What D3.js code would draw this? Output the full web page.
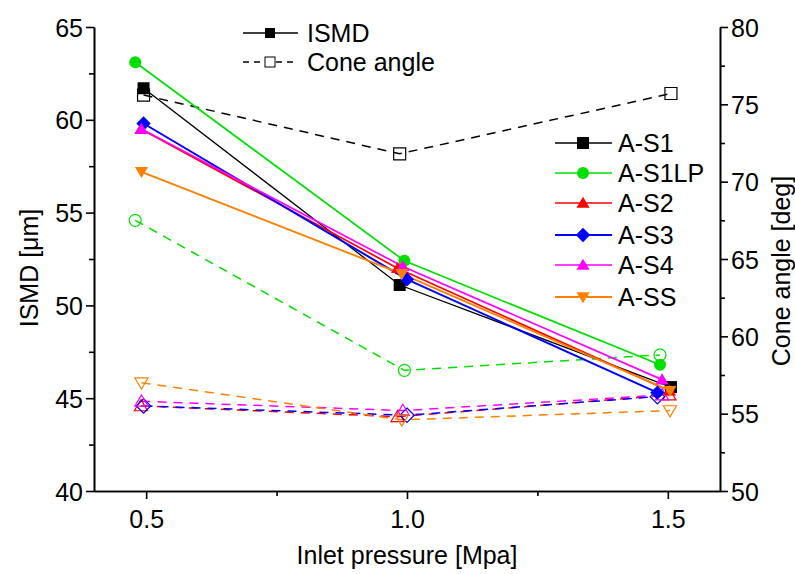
<!DOCTYPE html>
<html><head><meta charset="utf-8">
<script src="https://cdn.jsdelivr.net/npm/d3@7"></script>
<style>body{margin:0;background:#fff}svg{display:block}text{font-family:Arial,"Liberation Sans",sans-serif;fill:#000}</style>
</head><body><svg id="c" width="795" height="574"></svg>
<script>
const seriesNames = ["A-S1","A-S1LP","A-S2","A-S3","A-S4","A-SS"];
const colors = ["#000000","#00e000","#ff0000","#0000ff","#ff00ff","#ff8000"];
const symbols = ["square","circle","triangle","diamond","triangle","triangleDown"];
const pressS1   = [0.495, 0.986, 1.506];
const pressS1LP = [0.479, 0.995, 1.485];
const pressS2   = [0.490, 0.982, 1.503];
const pressS3   = [0.495, 1.000, 1.480];
const pressS4   = [0.491, 0.992, 1.489];
const pressSS   = [0.491, 0.990, 1.504];
const ismdS1   = [61.7, 51.1, 45.6];
const ismdS1LP = [63.1, 52.4, 46.8];
const ismdS2   = [59.5, 52.0, 45.4];
const ismdS3   = [59.8, 51.4, 45.3];
const ismdS4   = [59.5, 52.1, 46.0];
const ismdSS   = [57.2, 51.7, 45.4];
const coneS1   = [75.6, 71.8, 75.7];
const coneS1LP = [67.5, 57.8, 58.8];
const coneS2   = [55.5, 54.8, 56.2];
const coneS3   = [55.5, 54.9, 56.1];
const coneS4   = [55.8, 55.2, 56.2];
const coneSS   = [57.0, 54.6, 55.2];
const xTicks = [0.5, 1.0, 1.5];
const xMinorTicks = [0.75, 1.25];
const yLeftTicks = [40,45,50,55,60,65];
const yLeftMinor = [42.5,47.5,52.5,57.5,62.5];
const yRightTicks = [50,55,60,65,70,75,80];
const yRightMinor = [52.5,57.5,62.5,67.5,72.5,77.5];

const press = [pressS1,pressS1LP,pressS2,pressS3,pressS4,pressSS];
const ismd = [ismdS1,ismdS1LP,ismdS2,ismdS3,ismdS4,ismdSS];
const cone = [coneS1,coneS1LP,coneS2,coneS3,coneS4,coneSS];

const L=94, R=720, T=27, B=491, FS=25;
const svg = d3.select("#c");
const x = d3.scaleLinear().domain([0.4,1.6]).range([L,R]);
const yL = d3.scaleLinear().domain([40,65]).range([B,T]);
const yR = d3.scaleLinear().domain([50,80]).range([B,T]);

function symPath(type, h){
  if(type==="square") return `M${-h},${-h}H${h}V${h}H${-h}Z`;
  if(type==="circle") return d3.symbol().type(d3.symbolCircle).size(Math.PI*h*h)();
  if(type==="triangle") return `M0,${-h*1.05}L${h*1.1},${h*0.8}L${-h*1.1},${h*0.8}Z`;
  if(type==="triangleDown") return `M0,${h*1.05}L${h*1.1},${-h*0.8}L${-h*1.1},${-h*0.8}Z`;
  if(type==="diamond") return `M0,${-h*1.2}L${h*1.2},0L0,${h*1.2}L${-h*1.2},0Z`;
}
function drawMarker(g, type, cx, cy, color, filled, h){
  h = h || 6;
  g.append("path").attr("d", symPath(type,h))
    .attr("transform",`translate(${cx},${cy})`)
    .attr("fill", filled?color:"none")
    .attr("stroke", filled?"none":color).attr("stroke-width",1.2);
}

// axes
const axW = 1.6;
const gx = svg.append("g").attr("transform",`translate(0,${B})`)
  .call(d3.axisBottom(x).tickValues(xTicks).tickFormat(d3.format(".1f")).tickSizeInner(8).tickSizeOuter(0));
svg.append("g").attr("transform",`translate(0,${B})`)
  .call(d3.axisBottom(x).tickValues(xMinorTicks).tickFormat("").tickSizeInner(5).tickSizeOuter(0));
const gl = svg.append("g").attr("transform",`translate(${L},0)`)
  .call(d3.axisLeft(yL).tickValues(yLeftTicks).tickSizeInner(8).tickSizeOuter(0));
svg.append("g").attr("transform",`translate(${L},0)`)
  .call(d3.axisLeft(yL).tickValues(yLeftMinor).tickFormat("").tickSizeInner(5).tickSizeOuter(0));
const gr = svg.append("g").attr("transform",`translate(${R},0)`)
  .call(d3.axisRight(yR).tickValues(yRightTicks).tickSizeInner(8).tickSizeOuter(0));
svg.append("g").attr("transform",`translate(${R},0)`)
  .call(d3.axisRight(yR).tickValues(yRightMinor).tickFormat("").tickSizeInner(5).tickSizeOuter(0));
svg.selectAll(".domain").attr("stroke","#000").attr("stroke-width",axW);
svg.selectAll(".tick line").attr("stroke","#000").attr("stroke-width",axW);
svg.selectAll(".tick text").attr("font-size",FS).attr("font-family","Arial, Liberation Sans, sans-serif");
gx.selectAll(".tick text").attr("y",37).attr("dy",0);
gl.selectAll(".tick text").attr("x",-11).attr("dy","0.36em");
gr.selectAll(".tick text").attr("x",11).attr("dy","0.36em");

// titles
svg.append("text").attr("x",(L+R)/2).attr("y",564).attr("text-anchor","middle").attr("font-size",FS).text("Inlet pressure [Mpa]");
svg.append("text").attr("transform",`translate(38,268) rotate(-90)`).attr("text-anchor","middle").attr("font-size",FS).text("ISMD [μm]");
svg.append("text").attr("transform",`translate(790,271) rotate(-90)`).attr("text-anchor","middle").attr("font-size",FS).text("Cone angle [deg]");

const plot = svg.append("g");
const widths=[1.3,1.7,1.7,2.0,1.7,1.9];
// cone angle dashed
cone.forEach((vals,i)=>{
  const pts = vals.map((v,j)=>[x(press[i][j]), yR(v)]);
  plot.append("path").attr("d", d3.line()(pts)).attr("fill","none").attr("stroke",colors[i])
    .attr("stroke-width",1.5).attr("stroke-dasharray","9,7");
});
// ismd solid
ismd.forEach((vals,i)=>{
  const pts = vals.map((v,j)=>[x(press[i][j]), yL(v)]);
  plot.append("path").attr("d", d3.line()(pts)).attr("fill","none").attr("stroke",colors[i])
    .attr("stroke-width",widths[i]);
});
cone.forEach((vals,i)=>{
  vals.forEach((v,j)=>drawMarker(plot, symbols[i], x(press[i][j]), yR(v), colors[i], false));
});
ismd.forEach((vals,i)=>{
  vals.forEach((v,j)=>drawMarker(plot, symbols[i], x(press[i][j]), yL(v), colors[i], true));
});

// legend top
const lg = svg.append("g");
const r1=33, r2=62;
lg.append("line").attr("x1",243).attr("x2",298).attr("y1",r1).attr("y2",r1).attr("stroke","#000").attr("stroke-width",1.3);
drawMarker(lg,"square",270,r1,"#000",true,5);
lg.append("text").attr("x",307).attr("y",r1+9).attr("font-size",FS).text("ISMD");
lg.append("line").attr("x1",243).attr("x2",298).attr("y1",r2).attr("y2",r2).attr("stroke","#000").attr("stroke-width",1.3).attr("stroke-dasharray","6,5");
lg.append("rect").attr("x",265).attr("y",r2-5).attr("width",10).attr("height",10).attr("fill","#fff").attr("stroke","#000").attr("stroke-width",1);
lg.append("text").attr("x",307).attr("y",r2+9).attr("font-size",FS).text("Cone angle");

// legend right
const rows=[143,173,203,235,265,297];
seriesNames.forEach((n,i)=>{
  const g=svg.append("g");
  g.append("line").attr("x1",555).attr("x2",612).attr("y1",rows[i]).attr("y2",rows[i]).attr("stroke",colors[i]).attr("stroke-width",widths[i]);
  drawMarker(g,symbols[i],583,rows[i],colors[i],true);
  g.append("text").attr("x",618).attr("y",rows[i]+9).attr("font-size",FS).text(n);
});
</script></body></html>
